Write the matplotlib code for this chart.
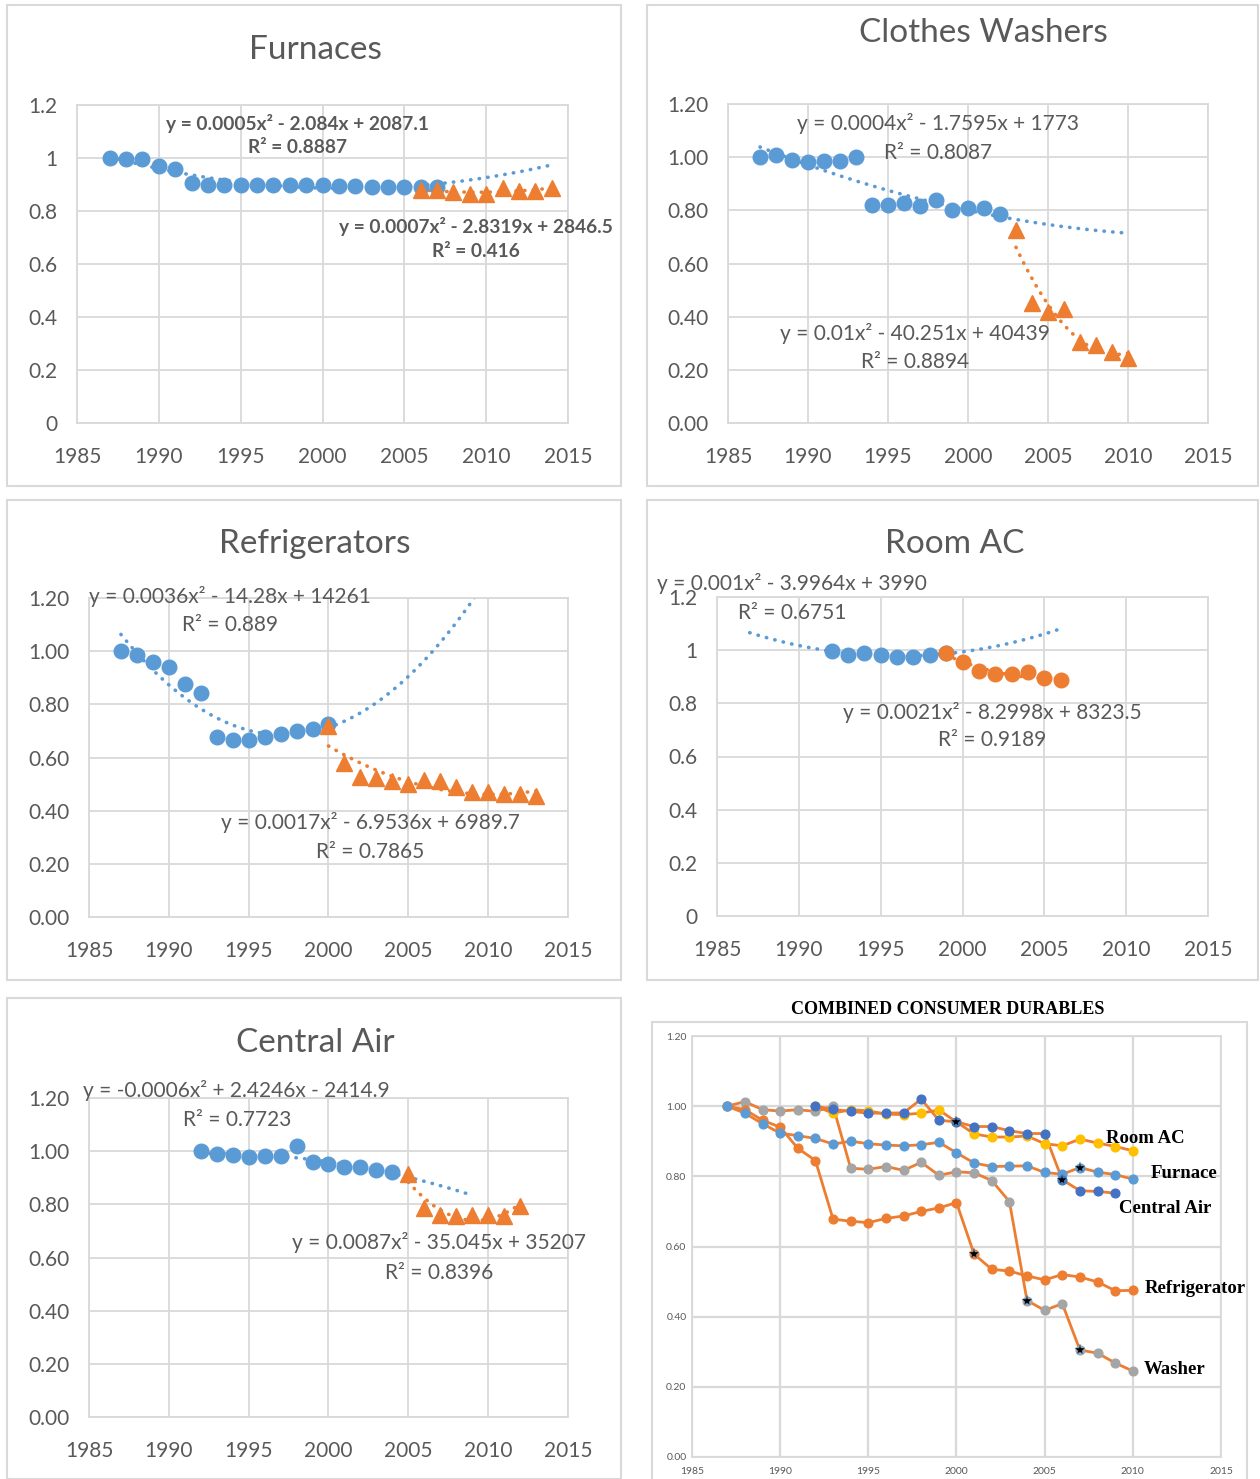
import numpy as np
import matplotlib
matplotlib.use("Agg")
import matplotlib.pyplot as plt
from matplotlib.patches import Rectangle
from matplotlib.ticker import FuncFormatter, FormatStrFormatter

W, H = 1260, 1479
BLUE = "#5B9BD5"
ORANGE = "#ED7D31"
TXT = "#595959"
GRID = "#D9D9D9"

plt.rcParams['font.family'] = ['Lato', 'DejaVu Sans']

# ---- Furnaces
furn_blue_years = list(range(1987, 2008))
furn_blue = [1.00, 0.995, 0.995, 0.97, 0.96, 0.905, 0.90, 0.90, 0.90, 0.898, 0.897,
             0.90, 0.90, 0.90, 0.895, 0.895, 0.892, 0.892, 0.889, 0.889, 0.89]
furn_orange_years = list(range(2006, 2015))
furn_orange = [0.88, 0.88, 0.87, 0.865, 0.865, 0.886, 0.877, 0.877, 0.886]

# ---- Clothes washers
wash_blue_years = list(range(1987, 2003))
wash_blue = [1.00, 1.01, 0.99, 0.982, 0.987, 0.985, 1.00, 0.821, 0.82, 0.829, 0.816,
             0.839, 0.80, 0.809, 0.808, 0.785]
wash_orange_years = list(range(2003, 2011))
wash_orange = [0.725, 0.45, 0.416, 0.43, 0.304, 0.294, 0.266, 0.244]

# ---- Refrigerators
ref_blue_years = list(range(1987, 2001))
ref_blue = [1.00, 0.986, 0.959, 0.939, 0.878, 0.841, 0.676, 0.667, 0.664, 0.678,
            0.688, 0.70, 0.708, 0.725]
ref_orange_years = list(range(2000, 2014))
ref_orange = [0.72, 0.578, 0.528, 0.522, 0.51, 0.50, 0.516, 0.51, 0.49, 0.47, 0.47,
              0.462, 0.462, 0.456]

# ---- Room AC
rac_blue_years = list(range(1992, 2000))
rac_blue = [0.997, 0.981, 0.991, 0.981, 0.976, 0.976, 0.98, 0.989]
rac_orange_years = list(range(1999, 2007))
rac_orange = [0.989, 0.956, 0.923, 0.91, 0.91, 0.916, 0.894, 0.886]

# ---- Central Air
ca_blue_years = list(range(1992, 2005))
ca_blue = [1.00, 0.989, 0.984, 0.978, 0.98, 0.98, 1.02, 0.958, 0.95, 0.94, 0.94,
           0.929, 0.92]
ca_orange_years = list(range(2005, 2013))
ca_orange = [0.915, 0.785, 0.76, 0.756, 0.76, 0.76, 0.757, 0.794]

# ---- Combined
comb_roomac_years = list(range(1992, 2011))
comb_roomac = [1.00, 0.98, 0.99, 0.987, 0.977, 0.976, 0.98, 0.989, 0.955, 0.921,
               0.912, 0.912, 0.915, 0.893, 0.887, 0.906, 0.895, 0.885, 0.873]
comb_central_years = list(range(1992, 2010))
comb_central = [1.00, 0.991, 0.985, 0.98, 0.98, 0.981, 1.02, 0.96, 0.955, 0.942,
                0.942, 0.93, 0.922, 0.922, 0.79, 0.759, 0.757, 0.752]
comb_years = list(range(1987, 2011))
comb_furnace = [1.00, 0.98, 0.95, 0.923, 0.916, 0.908, 0.892, 0.90, 0.893, 0.889,
                0.887, 0.89, 0.897, 0.867, 0.838, 0.828, 0.829, 0.83, 0.811, 0.806,
                0.825, 0.812, 0.805, 0.792]
comb_washer = [1.00, 1.013, 0.99, 0.986, 0.99, 0.985, 1.00, 0.823, 0.82, 0.828,
               0.817, 0.84, 0.803, 0.813, 0.81, 0.788, 0.728, 0.446, 0.418, 0.437,
               0.305, 0.296, 0.268, 0.245]
comb_fridge = [1.00, 0.99, 0.96, 0.94, 0.88, 0.845, 0.678, 0.672, 0.668, 0.68,
               0.687, 0.70, 0.71, 0.725, 0.578, 0.535, 0.53, 0.516, 0.505, 0.52,
               0.513, 0.499, 0.474, 0.475]
star_years = [2000, 2001, 2004, 2006, 2007, 2007]
star_vals = [0.955, 0.578, 0.446, 0.79, 0.825, 0.305]

fig = plt.figure(figsize=(W / 100, H / 100), dpi=100)


def add_ax(x0, y0, x1, y1):
    a = fig.add_axes([x0 / W, 1 - y1 / H, (x1 - x0) / W, (y1 - y0) / H])
    a.patch.set_alpha(0)
    return a


def frame(x0, y0, x1, y1):
    fig.patches.append(Rectangle((x0 / W, 1 - y1 / H), (x1 - x0) / W, (y1 - y0) / H,
                                 transform=fig.transFigure, fill=False,
                                 ec=GRID, lw=1.5))


def style(ax, fmt, size=15, pad=17):
    ax.set_xlim(1985, 2015)
    ax.set_ylim(0, 1.2)
    ax.set_xticks(range(1985, 2016, 5))
    ax.set_yticks(np.arange(0, 1.21, 0.2))
    ax.grid(True, color=GRID, lw=1.3)
    ax.set_axisbelow(True)
    for s in ax.spines.values():
        s.set_color(GRID)
        s.set_linewidth(1.3)
    ax.tick_params(length=0, labelsize=size, labelcolor=TXT, pad=pad)
    ax.tick_params(axis='y', pad=pad - 3)
    if fmt == "g":
        ax.yaxis.set_major_formatter(FuncFormatter(lambda v, p: f"{v:g}"))
    else:
        ax.yaxis.set_major_formatter(FormatStrFormatter(fmt))


def trend(ax, xs, ys, x0, x1, color):
    c = np.polyfit(np.array(xs) - 2000, ys, 2)
    xx = np.linspace(x0, x1, 300)
    ax.plot(xx, np.polyval(c, xx - 2000), color=color, lw=2.6,
            ls=(0, (0.1, 2.3)), dash_capstyle='round', zorder=2)


def points(ax, bx, by, ox, oy, omark='^'):
    ax.plot(bx, by, 'o', color=BLUE, ms=10.5, zorder=3)
    ax.plot(ox, oy, omark, color=ORANGE, ms=11 if omark == '^' else 10.5, zorder=4)


def label(ax, x, y, s, bold=False):
    ax.text(x, y, s, ha='center', va='center', fontsize=13.8 if bold else 15,
            color=TXT, fontweight='bold' if bold else 'normal', clip_on=False,
            zorder=6)


def title(x, y, s):
    fig.text(x / W, 1 - y / H, s, ha='center', va='center', fontsize=24, color=TXT)


# Furnaces
frame(7, 5, 621, 486)
title(315, 50, "Furnaces")
ax = add_ax(77, 105, 568, 423)
style(ax, "g")
trend(ax, furn_blue_years, furn_blue, 1987, 2014, BLUE)
trend(ax, furn_orange_years, furn_orange, 2006, 2014, ORANGE)
points(ax, furn_blue_years, furn_blue, furn_orange_years, furn_orange)
label(ax, 1998.5, 1.132, "y = 0.0005x² - 2.084x + 2087.1", True)
label(ax, 1998.5, 1.038, "R² = 0.8887", True)
label(ax, 2009.4, 0.743, "y = 0.0007x² - 2.8319x + 2846.5", True)
label(ax, 2009.4, 0.649, "R² = 0.416", True)

# Clothes Washers
frame(647, 5, 1258, 486)
title(983, 33, "Clothes Washers")
ax = add_ax(728, 104, 1208, 423)
style(ax, "%.2f")
trend(ax, wash_blue_years, wash_blue, 1987, 2010, BLUE)
trend(ax, wash_orange_years, wash_orange, 2003, 2010, ORANGE)
points(ax, wash_blue_years, wash_blue, wash_orange_years, wash_orange)
label(ax, 1998.1, 1.125, "y = 0.0004x² - 1.7595x + 1773")
label(ax, 1998.1, 1.016, "R² = 0.8087")
label(ax, 1996.7, 0.335, "y = 0.01x² - 40.251x + 40439")
label(ax, 1996.7, 0.23, "R² = 0.8894")

# Refrigerators
frame(7, 500, 621, 980)
title(315, 544, "Refrigerators")
ax = add_ax(89, 598, 568, 917)
style(ax, "%.2f")
trend(ax, ref_blue_years, ref_blue, 1987, 2010, BLUE)
trend(ax, ref_orange_years, ref_orange, 2000, 2013, ORANGE)
points(ax, ref_blue_years, ref_blue, ref_orange_years, ref_orange)
label(ax, 1993.8, 1.204, "y = 0.0036x² - 14.28x + 14261")
label(ax, 1993.8, 1.099, "R² = 0.889")
label(ax, 2002.6, 0.354, "y = 0.0017x² - 6.9536x + 6989.7")
label(ax, 2002.6, 0.245, "R² = 0.7865")

# Room AC
frame(647, 500, 1258, 980)
title(955, 544, "Room AC")
ax = add_ax(717, 597, 1208, 916)
style(ax, "g")
trend(ax, rac_blue_years, rac_blue, 1987, 2006, BLUE)
trend(ax, rac_orange_years, rac_orange, 1999, 2006, ORANGE)
points(ax, rac_blue_years, rac_blue, rac_orange_years, rac_orange, omark='o')
label(ax, 1989.6, 1.249, "y = 0.001x² - 3.9964x + 3990")
label(ax, 1989.6, 1.14, "R² = 0.6751")
label(ax, 2001.8, 0.767, "y = 0.0021x² - 8.2998x + 8323.5")
label(ax, 2001.8, 0.662, "R² = 0.9189")

# Central Air
frame(7, 998, 621, 1479)
title(315, 1043, "Central Air")
ax = add_ax(89, 1098, 568, 1417)
style(ax, "%.2f")
trend(ax, ca_blue_years, ca_blue, 1992, 2009, BLUE)
trend(ax, ca_orange_years, ca_orange, 2005, 2012, ORANGE)
points(ax, ca_blue_years, ca_blue, ca_orange_years, ca_orange)
label(ax, 1994.25, 1.23, "y = -0.0006x² + 2.4246x - 2414.9")
label(ax, 1994.25, 1.117, "R² = 0.7723")
label(ax, 2006.9, 0.655, "y = 0.0087x² - 35.045x + 35207")
label(ax, 2006.9, 0.542, "R² = 0.8396")

# Combined
frame(652, 1022, 1247, 1485)
fig.text(948 / W, 1 - 1010 / H, "COMBINED CONSUMER DURABLES", ha='center', va='center',
         fontsize=13, fontweight='bold', family='Liberation Serif', color='black')
ax = add_ax(692, 1036, 1221, 1457)
style(ax, "%.2f", size=7.5, pad=7)
ax.grid(True, color=GRID, lw=1.6)
series = [(comb_years, comb_washer, "#A5A5A5"),
          (comb_years, comb_fridge, ORANGE),
          (comb_years, comb_furnace, BLUE),
          (comb_roomac_years, comb_roomac, "#FFC000"),
          (comb_central_years, comb_central, "#4472C4")]
for xs, ys, mc in series:
    ax.plot(xs, ys, '-', color=ORANGE, lw=2, zorder=3)
    ax.plot(xs, ys, 'o', color=mc, ms=6.3, zorder=4)
ax.plot(star_years, star_vals, '*', color='black', mec=BLUE, mew=0.3, ms=8, zorder=5)
for x, y, s in [(2008.5, 0.909, "Room AC"), (2011.0, 0.809, "Furnace"),
                (2009.2, 0.709, "Central Air"), (2010.7, 0.479, "Refrigerator"),
                (2010.6, 0.248, "Washer")]:
    ax.text(x, y, s, ha='left', va='center', fontsize=13.5, fontweight='bold',
            family='Liberation Serif', color='black', clip_on=False, zorder=6)

fig.savefig("out.png", dpi=100)
